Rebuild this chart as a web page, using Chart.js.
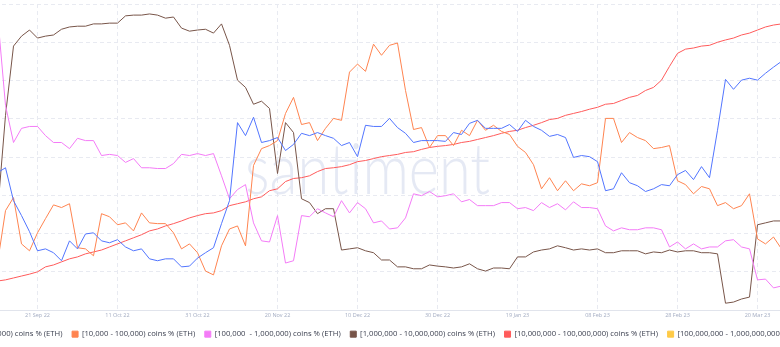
<!DOCTYPE html>
<html>
<head>
<meta charset="utf-8">
<title>ETH supply distribution</title>
<script src="https://cdn.jsdelivr.net/npm/chart.js@4.4.0/dist/chart.umd.min.js"></script>
<style>
    html, body { margin: 0; padding: 0; background: #fff; overflow: hidden; }
    .chart-wrap { position: absolute; left: -110px; top: 0; width: 1000px; height: 348px; }
</style>
</head>
<body>
<div class="chart-wrap"><canvas id="distributionChart" width="1000" height="348"></canvas></div>
<script>
// Daily readings, one every two days starting from this date
const FIRST_DAY = '2022-09-11';
const DAY_STEP = 2;

const tickDates = ['2022-09-21', '2022-10-11', '2022-10-31', '2022-11-20', '2022-12-10',
    '2022-12-30', '2023-01-19', '2023-02-08', '2023-02-28', '2023-03-20'];

const seriesLabels = [
    '[1,000 - 10,000) coins % (ETH)',
    '[10,000 - 100,000) coins % (ETH)',
    '[100,000  - 1,000,000) coins % (ETH)',
    '[1,000,000 - 10,000,000) coins % (ETH)',
    '[10,000,000 - 100,000,000) coins % (ETH)',
    '[100,000,000 - 1,000,000,000) coins % (ETH)'
];
const seriesColors = ['#5275ff', '#ff8450', '#f47bf7', '#785549', '#ff5b5b', '#ffcb47'];

const holders1k = [35.9, 37.2, 28.6, 24.7, 20.5, 15.5, 16.0, 15.0, 12.9, 18.1,
    16.0, 19.9, 20.2, 18.1, 17.6, 18.4, 16.5, 15.5, 16.0, 13.4,
    12.9, 13.4, 13.4, 11.3, 11.5, 13.6, 15.0, 16.3, 22.6, 28.6,
    49.0, 45.6, 50.4, 43.8, 44.3, 45.1, 41.7, 43.3, 46.2, 45.6,
    46.4, 45.6, 44.9, 43.0, 43.8, 40.1, 48.3, 48.0, 48.0, 50.1,
    47.7, 46.2, 43.8, 44.3, 44.3, 44.3, 44.1, 46.4, 45.9, 48.8,
    49.6, 47.5, 47.5, 47.5, 48.5, 46.7, 49.6, 48.0, 47.0, 45.4,
    45.9, 45.1, 39.9, 40.4, 40.1, 38.8, 31.2, 31.7, 35.9, 33.3,
    32.5, 31.0, 31.7, 32.8, 32.5, 35.4, 36.5, 34.1, 37.5, 34.6,
    47.0, 60.3, 57.7, 60.1, 60.6, 60.1, 61.9, 63.5, 65.0];

const holders10k = [12.3, 26.0, 29.4, 17.3, 15.5, 20.2, 23.9, 27.5, 26.8, 27.8,
    16.3, 16.0, 14.2, 25.2, 24.4, 22.3, 22.8, 20.7, 25.4, 22.8,
    22.6, 22.6, 20.2, 16.0, 17.3, 15.0, 10.2, 9.2, 16.8, 21.2,
    22.0, 16.8, 37.8, 42.2, 43.0, 44.3, 51.4, 55.6, 48.5, 49.0,
    44.3, 47.5, 50.1, 49.6, 62.2, 64.3, 62.4, 69.5, 66.6, 69.2,
    69.8, 57.4, 47.2, 47.7, 42.5, 45.6, 45.6, 43.0, 47.0, 45.6,
    49.6, 47.0, 48.3, 46.7, 45.9, 42.8, 41.2, 38.0, 31.7, 34.6,
    31.2, 33.8, 31.2, 33.0, 32.5, 33.3, 50.1, 50.1, 43.8, 46.4,
    45.1, 44.3, 42.2, 42.5, 43.0, 33.8, 32.8, 30.4, 32.3, 31.7,
    27.3, 28.1, 26.5, 27.3, 30.4, 18.6, 17.3, 19.1, 16.0];

const holders100k = [77.4, 53.5, 43.8, 47.5, 48.0, 48.0, 45.6, 43.8, 43.8, 42.2,
    44.9, 44.3, 44.3, 40.4, 40.7, 40.4, 38.6, 39.6, 37.2, 37.2,
    37.0, 37.0, 38.3, 40.7, 40.4, 40.9, 40.4, 40.9, 35.1, 29.1,
    31.5, 32.8, 22.8, 18.1, 17.8, 24.7, 12.3, 12.9, 24.7, 24.4,
    26.5, 25.4, 24.4, 28.6, 25.4, 28.1, 26.5, 22.8, 23.3, 21.2,
    21.5, 24.1, 30.4, 29.9, 31.0, 29.6, 29.9, 30.4, 28.3, 28.9,
    27.3, 27.3, 27.3, 28.1, 28.1, 26.5, 26.8, 26.0, 28.1, 26.8,
    27.8, 26.2, 28.3, 26.8, 26.8, 26.5, 22.0, 20.7, 21.5, 21.0,
    21.0, 21.5, 21.5, 21.0, 16.5, 17.8, 16.0, 17.3, 16.0, 16.5,
    16.5, 18.1, 18.4, 16.5, 16.0, 7.9, 8.1, 5.8, 6.3];

const holders1m = [25.4, 50.9, 69.0, 71.6, 73.2, 71.1, 71.6, 71.9, 73.4, 74.0,
    74.2, 74.2, 74.8, 74.8, 75.0, 75.0, 76.9, 77.1, 77.1, 77.4,
    77.1, 76.3, 76.6, 73.7, 72.9, 73.2, 73.4, 72.4, 74.8, 69.2,
    60.1, 58.2, 53.8, 54.6, 52.7, 35.7, 49.0, 46.4, 29.1, 28.1,
    25.2, 26.5, 26.5, 15.7, 16.0, 16.3, 15.5, 15.0, 13.1, 13.1,
    11.3, 11.3, 10.8, 10.8, 11.8, 11.5, 11.3, 11.0, 11.3, 12.1,
    10.8, 10.2, 11.0, 11.0, 10.8, 13.9, 13.9, 15.2, 15.7, 16.0,
    16.8, 16.3, 15.7, 16.0, 15.7, 16.0, 15.0, 15.0, 15.5, 15.5,
    15.5, 14.7, 15.2, 15.0, 15.7, 15.2, 15.5, 15.5, 15.0, 15.0,
    14.7, 1.8, 2.1, 2.9, 3.4, 22.3, 22.8, 23.3, 23.3];

const holders10m = [7.6, 7.9, 8.4, 8.9, 9.4, 10.0, 11.3, 11.8, 12.6, 13.4,
    13.9, 14.7, 15.2, 15.7, 16.5, 17.3, 18.1, 18.9, 19.7, 20.7,
    21.2, 22.0, 22.6, 23.3, 24.1, 24.7, 25.2, 25.4, 26.0, 27.3,
    27.8, 28.3, 29.1, 29.6, 31.2, 31.7, 33.6, 34.4, 34.6, 35.1,
    36.2, 37.0, 37.2, 37.5, 38.0, 38.8, 39.1, 39.6, 40.1, 40.4,
    40.7, 41.2, 41.4, 42.0, 42.5, 42.8, 43.0, 43.3, 43.8, 44.1,
    44.6, 45.1, 45.6, 46.2, 46.7, 47.0, 47.7, 48.3, 49.0, 49.8,
    50.1, 50.9, 51.4, 51.9, 52.5, 53.0, 53.8, 54.0, 54.8, 55.6,
    56.1, 57.4, 58.2, 60.1, 63.7, 67.1, 68.2, 68.5, 69.0, 69.2,
    70.0, 70.6, 71.1, 71.9, 72.4, 73.2, 74.0, 74.5, 74.8];

// no readings in this window for the largest band
const holders100m = [];

const DAY_MS = 86400000;
const firstTs = Date.parse(FIRST_DAY);
// visible window: 250 days across the canvas, 21 Sep 22 sits 36.9 days in
const viewStart = Date.parse('2022-09-21') - 36.875 * DAY_MS;
const viewEnd = viewStart + 250 * DAY_MS;

const MONTHS = ['Jan', 'Feb', 'Mar', 'Apr', 'May', 'Jun', 'Jul', 'Aug', 'Sep', 'Oct', 'Nov', 'Dec'];

function formatDay(ts) {
    const d = new Date(ts);
    const day = String(d.getUTCDate()).padStart(2, '0');
    return `${day} ${MONTHS[d.getUTCMonth()]} ${String(d.getUTCFullYear()).slice(2)}`;
}

function toPoints(values) {
    return values.map((v, i) => ({ x: firstTs + i * DAY_STEP * DAY_MS, y: v }));
}

// Faint wordmark behind the lines
const watermark = {
    id: 'watermark',
    beforeDatasetsDraw(chart) {
        const { ctx, chartArea } = chart;
        const cx = (chartArea.left + chartArea.right) / 2;
        const cy = (chartArea.top + chartArea.bottom) / 2;
        const text = 'santiment';
        const textWidth = 245;
        ctx.save();
        ctx.fillStyle = 'rgba(212, 218, 236, 0.6)';
        ctx.font = '300 71px Lato';
        const w = ctx.measureText(text).width;
        ctx.translate(cx - 145, cy + 14.5);
        ctx.scale(textWidth / w, 1);
        ctx.fillText(text, 0, 0);
        ctx.restore();
    }
};

const allSeries = [holders1k, holders10k, holders100k, holders1m, holders10m, holders100m];

const ctx = document.getElementById('distributionChart').getContext('2d');
new Chart(ctx, {
    type: 'line',
    data: {
        datasets: allSeries.map((values, i) => ({
            label: seriesLabels[i],
            data: toPoints(values),
            borderColor: seriesColors[i],
            backgroundColor: seriesColors[i],
            borderWidth: 1,
            pointRadius: 0,
            tension: 0,
            fill: false
        }))
    },
    options: {
        responsive: false,
        animation: false,
        devicePixelRatio: 1,
        layout: { padding: { top: 4, left: 0, right: 0, bottom: 0 } },
        plugins: {
            legend: {
                position: 'bottom',
                labels: {
                    font: { family: 'Open Sans', size: 7.7 },
                    color: '#3c4050',
                    boxWidth: 6,
                    boxHeight: 6,
                    padding: 9.6
                }
            },
            tooltip: { enabled: false }
        },
        scales: {
            x: {
                type: 'linear',
                min: viewStart,
                max: viewEnd,
                afterBuildTicks: (scale) => {
                    scale.ticks = tickDates.map(d => ({ value: Date.parse(d) }));
                },
                grid: { color: '#e8eaf1', drawTicks: false },
                border: { display: true, color: '#e1e4ec', dash: [4, 3] },
                ticks: {
                    padding: 2,
                    maxRotation: 0,
                    autoSkip: false,
                    color: '#a3acc2',
                    font: { family: 'Open Sans', size: 5.5 },
                    callback: (value) => formatDay(value)
                }
            },
            y: {
                min: 0,
                max: 80,
                grid: { color: '#e8eaf1', drawTicks: false },
                border: { display: false, dash: [4, 3] },
                ticks: { display: false, stepSize: 10 }
            }
        }
    },
    plugins: [watermark]
});
</script>
</body>
</html>
